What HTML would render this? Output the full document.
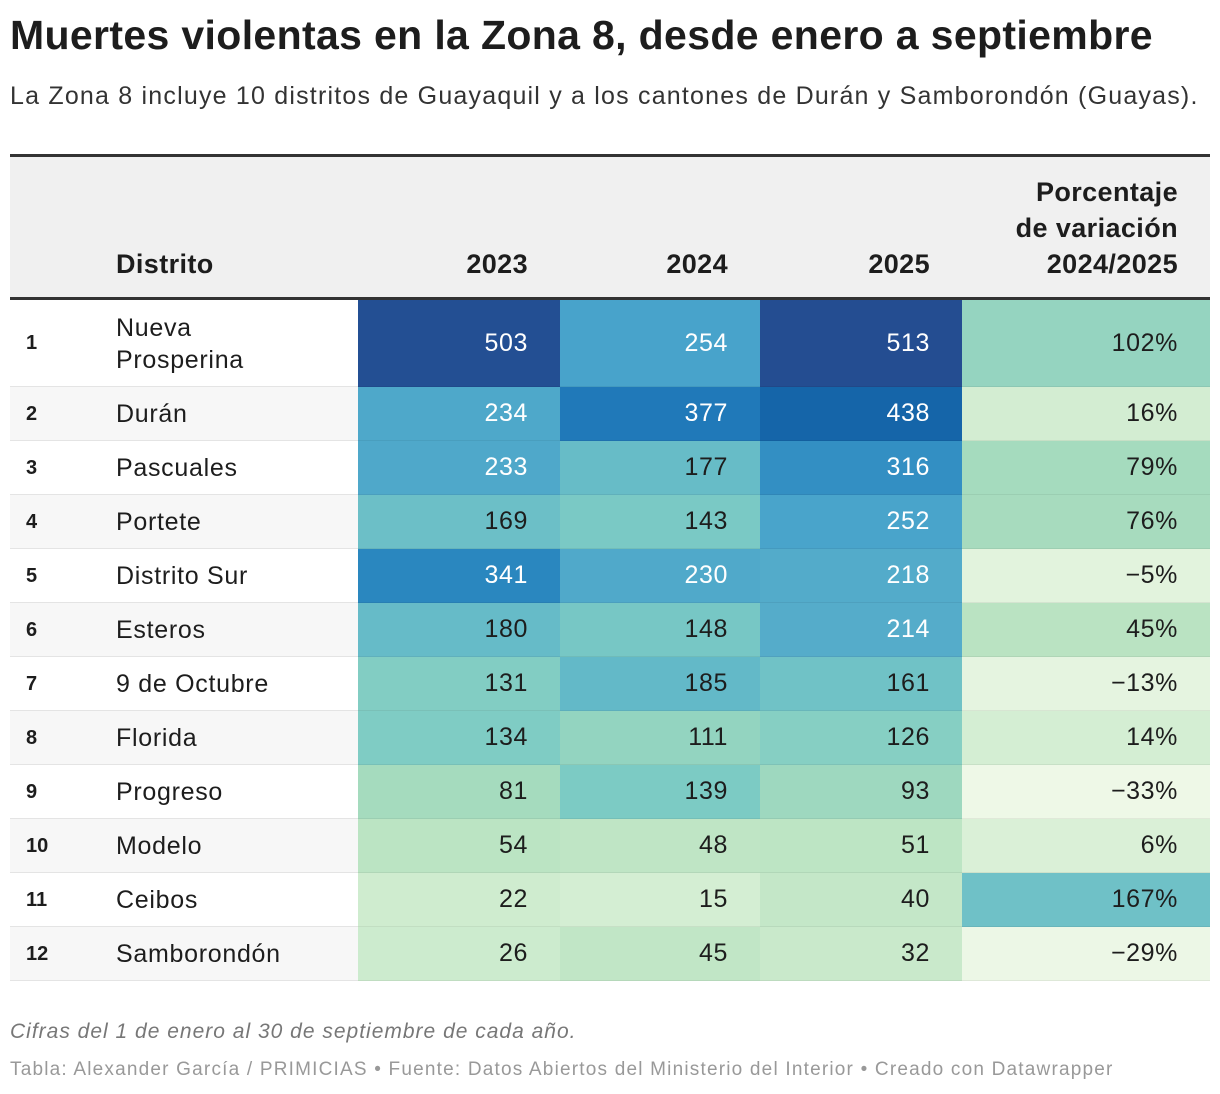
<!DOCTYPE html>
<html><head><meta charset="utf-8"><style>
body{margin:0;width:1220px;height:1094px;background:#fff;font-family:"Liberation Sans",sans-serif;color:#1d1d1d;position:relative;overflow:hidden}
.a{position:absolute}
.cell{position:absolute;box-sizing:border-box;font-size:25px;letter-spacing:0.6px;display:flex;align-items:center;justify-content:flex-end;padding-right:32px;border-bottom:1px solid rgba(0,0,0,0.06)}
.hd{position:absolute;font-weight:bold;font-size:27px;letter-spacing:0.4px;text-align:right;line-height:36px}
</style></head><body>
<div class="a" style="left:10px;top:12px;font-size:41px;font-weight:bold;letter-spacing:0.35px">Muertes violentas en la Zona 8, desde enero a septiembre</div>
<div class="a" style="left:10px;top:82px;font-size:25px;letter-spacing:1.2px;color:#333">La Zona 8 incluye 10 distritos de Guayaquil y a los cantones de Durán y Samborondón (Guayas).</div>
<div class="a" style="left:10px;top:154px;width:1200px;height:146px;box-sizing:border-box;background:#f0f0f0;border-top:3px solid #333;border-bottom:3px solid #333"></div>
<div class="hd" style="left:116px;top:246px;text-align:left">Distrito</div>
<div class="hd" style="left:358px;width:170px;top:246px">2023</div>
<div class="hd" style="left:560px;width:168px;top:246px">2024</div>
<div class="hd" style="left:760px;width:170px;top:246px">2025</div>
<div class="hd" style="left:942px;width:236px;top:174px">Porcentaje<br>de variación<br>2024/2025</div>
<div id="rows"></div>
<div class="a" style="left:10px;top:1020px;font-size:21px;letter-spacing:1px;font-style:italic;color:#777">Cifras del 1 de enero al 30 de septiembre de cada año.</div>
<div class="a" style="left:10px;top:1059px;font-size:19px;letter-spacing:1.2px;color:#999">Tabla: Alexander García / PRIMICIAS • Fuente: Datos Abiertos del Ministerio del Interior • Creado con Datawrapper</div>
<script>
const districts=["Nueva Prosperina","Durán","Pascuales","Portete","Distrito Sur","Esteros","9 de Octubre","Florida","Progreso","Modelo","Ceibos","Samborondón"];
const v2023=[503,234,233,169,341,180,131,134,81,54,22,26];
const v2024=[254,377,177,143,230,148,185,111,139,48,15,45];
const v2025=[513,438,316,252,218,214,161,126,93,51,40,32];
const pct=[102,16,79,76,-5,45,-13,14,-33,6,167,-29];
const stops=[[0,[224,243,219]],[20,[208,236,208]],[50,[190,229,196]],[80,[166,219,190]],[110,[148,212,192]],[135,[126,204,196]],[170,[107,191,199]],[215,[84,172,202]],[255,[72,163,203]],[320,[50,142,194]],[345,[40,134,191]],[380,[31,120,184]],[440,[21,100,168]],[510,[36,77,145]]];
const pstops=[[-35,[239,248,232]],[-5,[226,243,221]],[16,[211,237,210]],[45,[186,227,194]],[78,[166,219,190]],[102,[149,212,192]],[170,[109,192,199]]];
function col(v,s){if(v<=s[0][0])return s[0][1];for(let i=1;i<s.length;i++){if(v<=s[i][0]){const t=(v-s[i-1][0])/(s[i][0]-s[i-1][0]);return s[i-1][1].map((c,k)=>Math.round(c+(s[i][1][k]-c)*t));}}return s[s.length-1][1];}
const root=document.getElementById('rows');
function rowTop(i){return i===0?300:387+(i-1)*54;}
function rowH(i){return i===0?87:54;}
const cols=[[358,202],[560,200],[760,202]];
districts.forEach((d,i)=>{
 const y=rowTop(i),h=rowH(i);
 const bg=document.createElement('div');
 
 
 bg.className='a';bg.style.cssText=`left:10px;top:${y}px;width:1200px;height:${h}px;background:${i%2?'#f7f7f7':'#fff'};border-bottom:1px solid #e4e4e4;box-sizing:border-box`;
 root.appendChild(bg);
 const r=document.createElement('div');
 
 
 r.className='a';r.style.cssText=`left:26px;top:${y}px;height:${h}px;display:flex;align-items:center;font-weight:bold;font-size:20px`;
 r.textContent=i+1;root.appendChild(r);
 const n=document.createElement('div');
 
 
 n.className='a';n.style.cssText=`left:116px;top:${y}px;height:${h}px;display:flex;align-items:center;font-size:25px;letter-spacing:0.7px;line-height:32px`;
 n.innerHTML=i===0?'Nueva<br>Prosperina':d;root.appendChild(n);
 [v2023,v2024,v2025].forEach((arr,k)=>{
  const v=arr[i],c=col(v,stops);
  const e=document.createElement('div');
  
  
  e.className='cell';e.style.cssText+=`left:${cols[k][0]}px;top:${y}px;width:${cols[k][1]}px;height:${h}px;background:rgb(${c});color:${v>=200?'#fff':'#1d1d1d'}`;
  e.textContent=v;root.appendChild(e);
 });
 const p=pct[i],pc=col(p,pstops);
 const e=document.createElement('div');
 
 
 e.className='cell';e.style.cssText+=`left:962px;top:${y}px;width:248px;height:${h}px;background:rgb(${pc})`;
 e.textContent=(p<0?'−'+Math.abs(p):p)+'%';root.appendChild(e);
});
</script>
</body></html>
